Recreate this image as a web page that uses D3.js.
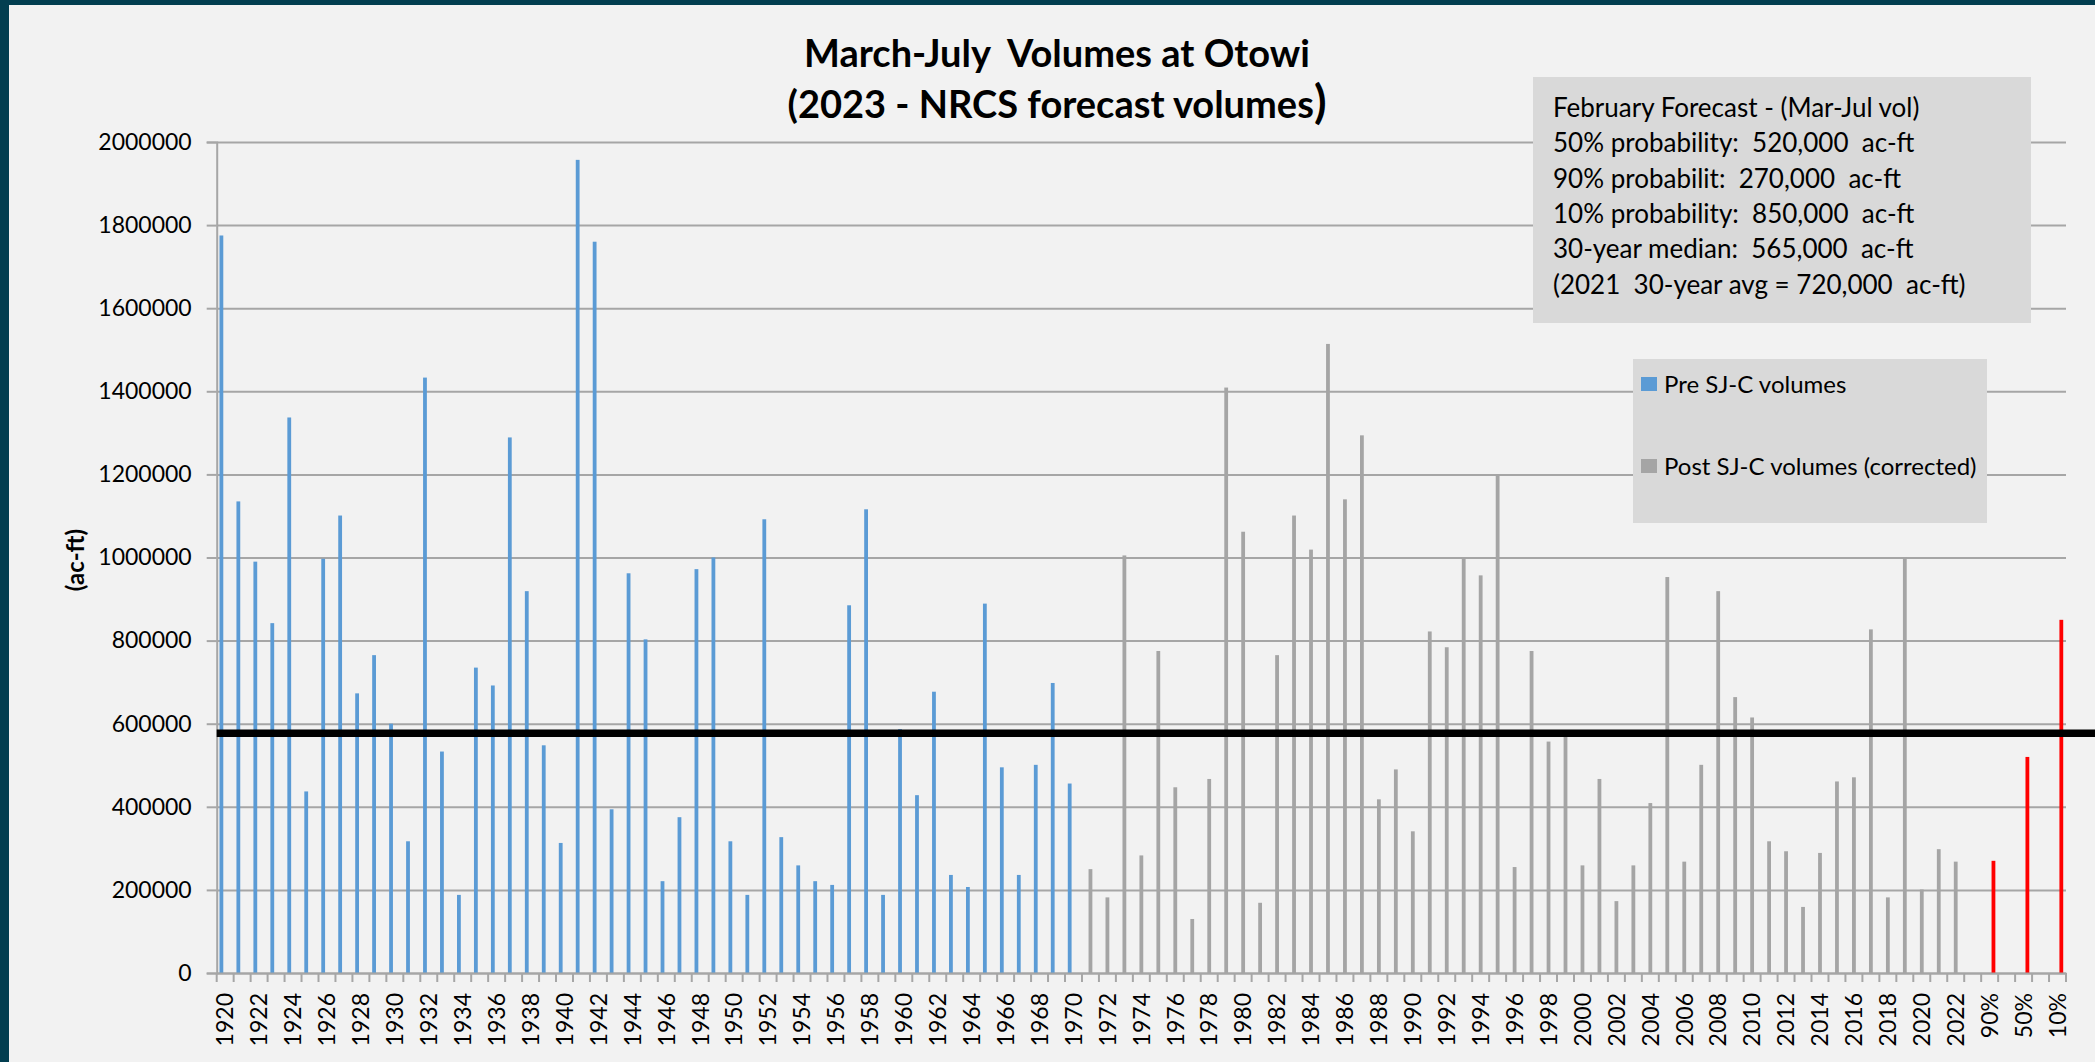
<!DOCTYPE html>
<html>
<head>
<meta charset="utf-8">
<script src="https://cdn.jsdelivr.net/npm/d3@7"></script>
<style>
  html, body { margin: 0; padding: 0; background: #f2f2f2; }
  svg { display: block; }
  text { font-family: Lato, "Open Sans", sans-serif; fill: #000; }
</style>
</head>
<body>
<svg id="chart"></svg>
<script>
// categories: years then the three forecast slots (gaps between them)
let years = d3.range(1920, 2023).map(String)
let forecastCats = ['gap1', '90%', 'gap2', '50%', 'gap3', '10%']
let categories = years.concat(forecastCats)

// Pre SJ-C volumes 1920-1970 (ac-ft)
let preVolumes = [
  1775000, 1135000, 990000, 842000, 1337000, 437000, 997000, 1101000, 673000, 765000,
  600000, 317000, 1433000, 533000, 188000, 735000, 692000, 1289000, 919000, 548000,
  313000, 1957000, 1760000, 394000, 962000, 803000, 221000, 375000, 972000, 1000000,
  317000, 188000, 1092000, 327000, 259000, 221000, 212000, 885000, 1116000, 188000,
  587000, 428000, 677000, 236000, 207000, 889000, 495000, 236000, 501000, 698000,
  456000
]

// Post SJ-C volumes (corrected) 1971-2022
let postVolumes = [
  250000, 182000, 1005000, 283000, 775000, 447000, 130000, 467000, 1409000, 1062000,
  169000, 765000, 1101000, 1019000, 1514000, 1140000, 1294000, 418000, 490000, 341000,
  822000, 784000, 1000000, 957000, 1200000, 255000, 775000, 557000, 568000, 259000,
  467000, 173000, 259000, 409000, 953000, 268000, 501000, 919000, 664000, 615000,
  317000, 293000, 159000, 289000, 461000, 471000, 827000, 182000, 1000000, 201000,
  298000, 268000
]

// 2023 February forecast volumes
let forecastLabels = ['90%', '50%', '10%']
let forecastVolumes = [270000, 520000, 850000]

let medianLine = 577000
let yTicks = [0, 200000, 400000, 600000, 800000, 1000000, 1200000, 1400000, 1600000, 1800000, 2000000]

let infoLines = [
  'February Forecast - (Mar-Jul vol)',
  '50% probability:  520,000  ac-ft',
  '90% probabilit:  270,000  ac-ft',
  '10% probability:  850,000  ac-ft',
  '30-year median:  565,000  ac-ft',
  '(2021  30-year avg = 720,000  ac-ft)'
]
let legendLabels = ['Pre SJ-C volumes', 'Post SJ-C volumes (corrected)']

let w = 2095
let h = 1062
let pLeft = 216.7, pRight = 2066, pTop = 142, pBottom = 973

let svg = d3.select('#chart').attr('width', w).attr('height', h)

svg.append('rect').attr('width', w).attr('height', h).attr('fill', '#f2f2f2')
// dark frame on top and left
svg.append('rect').attr('x', 0).attr('y', 0).attr('width', w).attr('height', 5).attr('fill', '#023e50')
svg.append('rect').attr('x', 0).attr('y', 0).attr('width', 9).attr('height', h).attr('fill', '#023e50')

let xScale = d3.scaleBand().domain(categories).range([pLeft, pRight]).padding(0)
let series = ['pre', 'post', 'fcst']
let inner = d3.scaleBand().domain(series)
  .range([xScale.bandwidth() / 2 - 5.7, xScale.bandwidth() / 2 + 5.7])
let yScale = d3.scaleLinear().domain([0, 2000000]).range([pBottom, pTop])

let gridColor = '#a6a6a6'

// gridlines
let grid = svg.append('g')
  .attr('transform', 'translate(' + pLeft + ',0)')
  .call(d3.axisLeft(yScale).tickValues(yTicks).tickSize(-(pRight - pLeft)).tickFormat(''))
grid.select('.domain').remove()
grid.selectAll('line').attr('stroke', gridColor).attr('stroke-width', 2)

// bars
let bars = []
preVolumes.forEach((v, i) => bars.push({ cat: years[i], s: 'pre', v: v }))
postVolumes.forEach((v, i) => bars.push({ cat: years[i + preVolumes.length], s: 'post', v: v }))
forecastVolumes.forEach((v, i) => bars.push({ cat: forecastLabels[i], s: 'fcst', v: v }))

let colors = { pre: '#5b9bd5', post: '#a5a5a5', fcst: '#ff0000' }

svg.append('g').selectAll('rect')
  .data(bars)
  .enter()
  .append('rect')
  .attr('x', (d) => xScale(d.cat) + inner(d.s))
  .attr('width', inner.bandwidth())
  .attr('y', (d) => yScale(d.v))
  .attr('height', (d) => yScale(0) - yScale(d.v))
  .attr('fill', (d) => colors[d.s])

// y axis
let yAxis = svg.append('g')
  .attr('transform', 'translate(' + pLeft + ',0)')
  .call(d3.axisLeft(yScale).tickValues(yTicks).tickSize(10).tickPadding(15).tickFormat(d3.format('d')))
yAxis.select('.domain').attr('stroke', gridColor).attr('stroke-width', 2)
yAxis.selectAll('line').attr('stroke', gridColor).attr('stroke-width', 2)
yAxis.selectAll('text').style('font-size', '23px').style('font-family', 'Lato')

// x axis
let labelCats = categories.filter((d, i) => i % 2 === 0)
let xAxis = svg.append('g')
  .attr('transform', 'translate(0,' + pBottom + ')')
  .call(d3.axisBottom(xScale).tickValues(labelCats).tickSize(0))
xAxis.select('.domain').attr('stroke', gridColor).attr('stroke-width', 2)
xAxis.selectAll('text')
  .style('font-size', '23px')
  .style('font-family', 'Lato')
  .attr('text-anchor', 'end')
  .attr('transform', 'rotate(-90)')
  .attr('x', -20)
  .attr('y', 0)
  .attr('dy', '0.36em')

// tick marks sit between categories
let boundaries = d3.range(categories.length + 1)
svg.append('g').selectAll('line')
  .data(boundaries)
  .enter()
  .append('line')
  .attr('x1', (i) => xScale.range()[0] + i * xScale.step())
  .attr('x2', (i) => xScale.range()[0] + i * xScale.step())
  .attr('y1', pBottom)
  .attr('y2', pBottom + 9)
  .attr('stroke', gridColor)
  .attr('stroke-width', 2)

// heavy black reference line, runs to the right edge
svg.append('line')
  .attr('x1', pLeft).attr('x2', w)
  .attr('y1', yScale(medianLine)).attr('y2', yScale(medianLine))
  .attr('stroke', '#000').attr('stroke-width', 7.5)

// title
let title = svg.append('text')
  .attr('text-anchor', 'middle')
  .style('font-weight', 'bold')
  .style('font-size', '38px')
title.append('tspan').attr('x', 1057).attr('y', 67).style('white-space', 'pre').text('March-July  Volumes at Otowi')
let t2 = title.append('tspan').attr('x', 1057).attr('y', 118)
t2.append('tspan').text('(2023 - NRCS forecast volumes')
t2.append('tspan').style('font-size', '46px').text(')')

// y label
svg.append('text')
  .attr('transform', 'translate(84,560) rotate(-90)')
  .attr('text-anchor', 'middle')
  .style('font-weight', 'bold')
  .style('font-size', '24px')
  .text('(ac-ft)')

// forecast text box
svg.append('rect').attr('x', 1533).attr('y', 77).attr('width', 498).attr('height', 246).attr('fill', '#d9d9d9')
svg.append('g').selectAll('text')
  .data(infoLines)
  .enter()
  .append('text')
  .attr('x', 1553)
  .attr('y', (d, i) => 117 + i * 35.3)
  .style('font-size', '26px')
  .style('white-space', 'pre')
  .text((d) => d)

// legend
let legend = svg.append('g')
legend.append('rect').attr('x', 1633).attr('y', 359).attr('width', 354).attr('height', 164).attr('fill', '#d9d9d9')
let legItems = legend.selectAll('g.item')
  .data(legendLabels)
  .enter()
  .append('g')
  .attr('class', 'item')
  .attr('transform', (d, i) => 'translate(1641,' + (377 + i * 82) + ')')
legItems.append('rect')
  .attr('width', 16).attr('height', 14)
  .attr('fill', (d, i) => i === 0 ? colors.pre : colors.post)
legItems.append('text')
  .attr('x', 23).attr('y', 16)
  .style('font-size', '24px')
  .text((d) => d)
</script>
</body>
</html>
